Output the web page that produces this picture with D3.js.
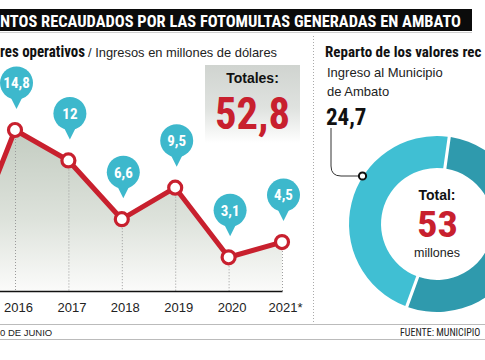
<!DOCTYPE html>
<html><head><meta charset="utf-8">
<script src="https://cdn.jsdelivr.net/npm/d3@7"></script>
<style>
body{margin:0;background:#fff;}
svg{display:block;}
</style></head>
<body>
<svg id="c" width="485" height="360"></svg>
<script>
// ---- data ----
const years = ["2015","2016","2017","2018","2019","2020","2021*"];
const values = [2.3, 14.8, 12, 6.6, 9.5, 3.1, 4.5];
const totalRecaudado = "52,8";
const shareNames = ["Otros", "Ingreso al Municipio de Ambato"];
const shareValues = [28.3, 24.7];
const donutTotal = "53";
const municipioLabel = "24,7";

const NARROW = "'Liberation Sans Narrow','Arial Narrow','Roboto Condensed','DejaVu Sans Condensed',sans-serif";
const SANS = "'Liberation Sans',Arial,Helvetica,sans-serif";
const RED = "#c8202e";

const svg = d3.select("#c");
const defs = svg.append("defs");

function fit(sel, w){ sel.attr("textLength", w).attr("lengthAdjust","spacingAndGlyphs"); return sel; }

// ---- title bar ----
svg.append("rect").attr("x",0).attr("y",9).attr("width",472).attr("height",22).attr("fill","#0b0b0b");
svg.append("line").attr("x1",0).attr("x2",472).attr("y1",32.5).attr("y2",32.5).attr("stroke","#cfcfcf");
fit(svg.append("text").attr("x",0).attr("y",27).attr("fill","#fff")
  .style("font-family",NARROW).style("font-weight","bold").style("font-size","17px")
  .text("NTOS RECAUDADOS POR LAS FOTOMULTAS GENERADAS EN AMBATO"), 461);

// ---- left subtitle ----
fit(svg.append("text").attr("x",0).attr("y",57).attr("fill","#111")
  .style("font-family",NARROW).style("font-weight","bold").style("font-size","16px")
  .text("res operativos"), 85);
fit(svg.append("text").attr("x",88).attr("y",57).attr("fill","#222")
  .style("font-family",SANS).style("font-size","13px")
  .text("/ Ingresos en millones de dólares"), 189);

// ---- separator ----
svg.append("line").attr("x1",313.5).attr("x2",313.5).attr("y1",36).attr("y2",322)
  .attr("stroke","#aaa").attr("stroke-dasharray","1,2");

// ---- line chart ----
const x = d3.scalePoint().domain(years).range([-38.4, 282]);
const y = d3.scaleLinear().domain([0, 14.8]).range([291, 130]);
const data = years.map((yr,i)=>({year:yr, value:values[i]}));

const grad = defs.append("linearGradient").attr("id","areaG").attr("x1",0).attr("x2",0).attr("y1",0).attr("y2",1);
grad.append("stop").attr("offset","0%").attr("stop-color","#c3ccc1");
grad.append("stop").attr("offset","55%").attr("stop-color","#dde2db");
grad.append("stop").attr("offset","100%").attr("stop-color","#fbfbfa");

svg.append("path").datum(data)
  .attr("d", d3.area().x(d=>x(d.year)).y0(y(0)).y1(d=>y(d.value)))
  .attr("fill","url(#areaG)");

svg.selectAll(".drop").data(data).join("line")
  .attr("x1",d=>x(d.year)+0.5).attr("x2",d=>x(d.year)+0.5)
  .attr("y1",d=>y(d.value)).attr("y2",y(0))
  .attr("stroke","#9a9a9a").attr("stroke-width",1).attr("stroke-dasharray","1,2");

const axis = svg.append("g").attr("transform",`translate(0,${y(0)})`)
  .call(d3.axisBottom(x).tickValues(years.slice(1)).tickSize(0).tickSizeOuter(0).tickPadding(12));
axis.select(".domain").attr("stroke","#111").attr("stroke-width",1.6);
axis.selectAll(".tick text").attr("dx",3).attr("fill","#222")
  .style("font-family",SANS).style("font-size","13px");

svg.append("path").datum(data)
  .attr("d", d3.line().x(d=>x(d.year)).y(d=>y(d.value)))
  .attr("fill","none").attr("stroke",RED).attr("stroke-width",5).attr("stroke-linejoin","round");

svg.selectAll(".pt").data(data).join("circle")
  .attr("cx",d=>x(d.year)).attr("cy",d=>y(d.value)).attr("r",6.5)
  .attr("fill","#fff").attr("stroke",RED).attr("stroke-width",3.2);

// bubbles
const vis = data.filter(d=>x(d.year) >= 0);
const fmt = v => String(v).replace(".", ",");
const bub = svg.selectAll(".bub").data(vis).join("g")
  .attr("transform",d=>`translate(${x(d.year)+1.5},${y(d.value)-47})`);
bub.append("path")
  .attr("d","M-7,12 L0,26 L7,12 Z").attr("fill","#3db8cc");
bub.append("circle").attr("r",16.5).attr("fill","#3db8cc");
bub.append("text").attr("text-anchor","middle").attr("dy","0.36em").attr("fill","#fff")
  .style("font-family",NARROW).style("font-weight","bold").style("font-size","15px")
  .text(d=>fmt(d.value));

// Totales box
const tg = defs.append("linearGradient").attr("id","totG").attr("x1",0).attr("x2",0).attr("y1",0).attr("y2",1);
tg.append("stop").attr("offset","0%").attr("stop-color","#d0d4d0");
tg.append("stop").attr("offset","55%").attr("stop-color","#dfe2df");
tg.append("stop").attr("offset","100%").attr("stop-color","#ffffff");
svg.append("rect").attr("x",205).attr("y",65).attr("width",95).attr("height",78).attr("fill","url(#totG)");
svg.append("text").attr("x",252.5).attr("y",83).attr("text-anchor","middle").attr("fill","#111")
  .style("font-family",SANS).style("font-weight","bold").style("font-size","14px").text("Totales:");
fit(svg.append("text").attr("x",215).attr("y",129).attr("fill",RED)
  .style("font-family",NARROW).style("font-weight","bold").style("font-size","45px")
  .text(totalRecaudado), 75);

// ---- right panel ----
svg.append("text").attr("x",325).attr("y",57).attr("fill","#111")
  .style("font-family",NARROW).style("font-weight","bold").style("font-size","15px")
  .text("Reparto de los valores rec");
svg.append("text").attr("x",327).attr("y",77).attr("fill","#222")
  .style("font-family",SANS).style("font-size","13px").text("Ingreso al Municipio");
svg.append("text").attr("x",327).attr("y",96).attr("fill","#222")
  .style("font-family",SANS).style("font-size","13px").text("de Ambato");
svg.append("text").attr("x",326).attr("y",125).attr("fill","#111")
  .style("font-family",NARROW).style("font-weight","bold").style("font-size","23px").text(municipioLabel);

const cx = 437, cy = 224;
const pie = d3.pie().sort(null).startAngle(8*Math.PI/180).endAngle(368*Math.PI/180).padAngle(0.03);
const arc = d3.arc().innerRadius(56).outerRadius(88);
const colors = ["#2f9aad", "#40bfd3"];
svg.append("g").attr("transform",`translate(${cx},${cy})`)
  .selectAll("path").data(pie(shareValues)).join("path")
  .attr("d",arc).attr("fill",(d,i)=>colors[i]);

svg.append("path").attr("d","M331,128 L331,166 Q331,176 341,176 L359,176")
  .attr("fill","none").attr("stroke","#333").attr("stroke-width",1);
svg.append("circle").attr("cx",362.5).attr("cy",176).attr("r",3.6)
  .attr("fill","#fff").attr("stroke","#111").attr("stroke-width",2);

svg.append("text").attr("x",cx).attr("y",200).attr("text-anchor","middle").attr("fill","#111")
  .style("font-family",SANS).style("font-weight","bold").style("font-size","14px").text("Total:");
fit(svg.append("text").attr("x",cx-20).attr("y",237).attr("fill",RED)
  .style("font-family",NARROW).style("font-weight","bold").style("font-size","37px")
  .text(donutTotal), 41);
svg.append("text").attr("x",cx).attr("y",257).attr("text-anchor","middle").attr("fill","#222")
  .style("font-family",SANS).style("font-size","12.5px").text("millones");

// ---- footer ----
svg.append("line").attr("x1",0).attr("x2",485).attr("y1",324.5).attr("y2",324.5).attr("stroke","#bbb");
svg.append("line").attr("x1",0).attr("x2",485).attr("y1",339.5).attr("y2",339.5).attr("stroke","#bbb");
svg.append("text").attr("x",0).attr("y",335.5).attr("fill","#222")
  .style("font-family",SANS).style("font-size","9.5px").text("0 DE JUNIO");
svg.append("text").attr("x",400).attr("y",335.5).attr("fill","#222")
  .style("font-family",NARROW).style("font-size","10px").text("FUENTE: MUNICIPIO");
</script>
</body></html>
